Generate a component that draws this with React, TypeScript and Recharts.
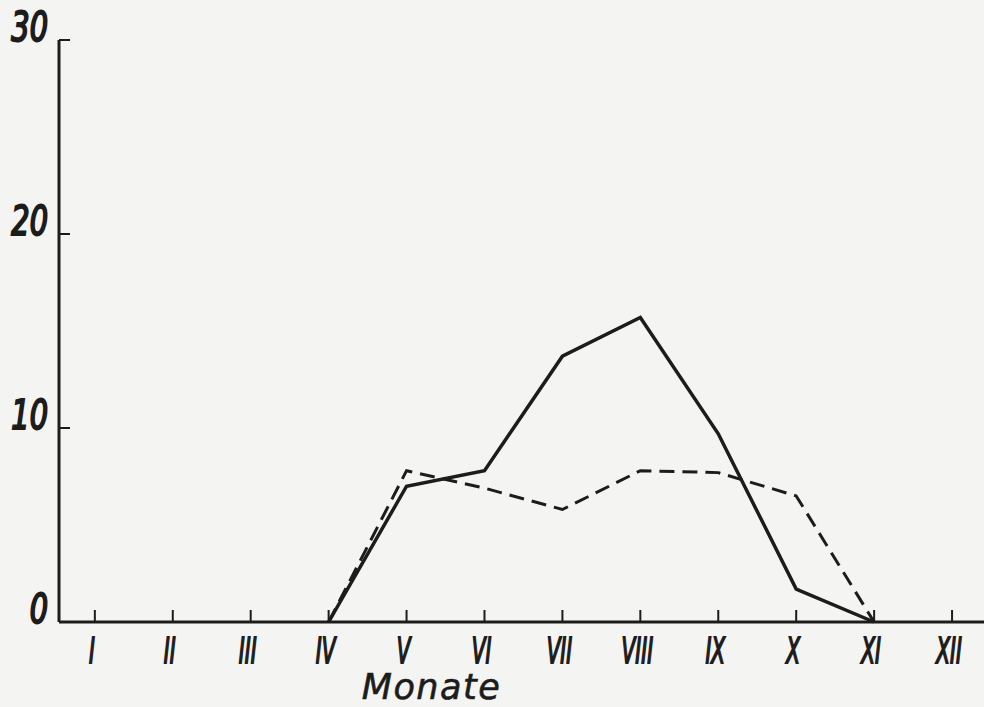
import { LineChart, Line, XAxis, YAxis } from 'recharts'

// Monthly values (I–XII)
const months = ['I', 'II', 'III', 'IV', 'V', 'VI', 'VII', 'VIII', 'IX', 'X', 'XI', 'XII']
const solidValues = [null, null, null, 0, 7.0, 7.8, 13.7, 15.7, 9.7, 1.7, 0, null]
const dashedValues = [null, null, null, 0, 7.8, 6.9, 5.8, 7.8, 7.7, 6.5, 0, null]
const yTicks = [0, 10, 20, 30]

const data = months.map((label, i) => ({
  m: i + 1,
  label,
  solid: solidValues[i],
  dashed: dashedValues[i],
}))

const INK = '#1c1c1c'
const NUM_FONT = '"DejaVu Sans Condensed", "DejaVu Sans", sans-serif'

function YTick({ x, y, payload }: any) {
  return (
    <g>
      <line x1={x} y1={y} x2={x + 11} y2={y} stroke={INK} strokeWidth={2} />
      <text
        transform={`translate(${x - 11},${y + 1}) scale(0.8,1)`}
        textAnchor="end"
        fill={INK}
        stroke={INK}
        strokeWidth={2}
        fontFamily={NUM_FONT}
        fontStyle="italic"
        fontSize={40}
      >
        {payload.value}
      </text>
    </g>
  )
}

function XTick({ x, y, payload }: any) {
  return (
    <g>
      <line x1={x} y1={y} x2={x} y2={y - 12} stroke={INK} strokeWidth={2} />
      <text
        transform={`translate(${x - 3},${y + 41}) scale(0.62,1)`}
        textAnchor="middle"
        fill={INK}
        stroke={INK}
        strokeWidth={1.8}
        fontFamily={NUM_FONT}
        fontStyle="italic"
        fontSize={36}
      >
        {months[payload.value - 1]}
      </text>
    </g>
  )
}

export default function App() {
  return (
    <div style={{ position: 'fixed', left: 0, top: 0, width: 984, height: 707, background: '#f4f4f3' }}>
      <LineChart width={984} height={707} data={data} margin={{ top: 40, right: 0, bottom: 0, left: 0 }}>
        <XAxis
          dataKey="m"
          type="number"
          domain={[0.54, 12.41]}
          ticks={months.map((_, i) => i + 1)}
          allowDataOverflow
          height={85}
          tickSize={0}
          tickMargin={0}
          tickLine={false}
          tick={<XTick />}
          axisLine={{ stroke: INK, strokeWidth: 3 }}
          label={{
            value: 'Monate',
            position: 'insideBottom',
            offset: 8,
            dx: -90,
            fill: INK,
            stroke: INK,
            strokeWidth: 0.6,
            fontFamily: '"DejaVu Sans", sans-serif',
            fontStyle: 'italic',
            fontSize: 35,
            letterSpacing: 1.5,
          }}
        />
        <YAxis
          type="number"
          domain={[0, 30]}
          ticks={yTicks}
          width={59}
          tickSize={0}
          tickMargin={0}
          tickLine={false}
          tick={<YTick />}
          axisLine={{ stroke: INK, strokeWidth: 3 }}
        />
        <Line
          dataKey="dashed"
          type="linear"
          stroke={INK}
          strokeWidth={3}
          strokeDasharray="15 8"
          dot={false}
          isAnimationActive={false}
        />
        <Line
          dataKey="solid"
          type="linear"
          stroke={INK}
          strokeWidth={3.5}
          dot={false}
          isAnimationActive={false}
        />
      </LineChart>
    </div>
  )
}
